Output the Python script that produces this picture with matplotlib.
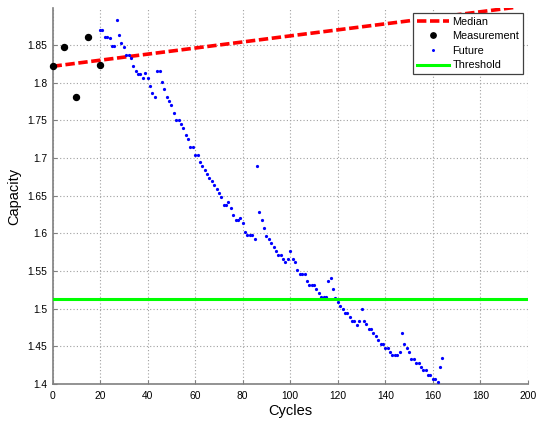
import matplotlib
matplotlib.use("Agg")
import matplotlib.pyplot as plt
import numpy as np

# ================================================================
# 1. Data
# ================================================================
meas_cycles = [0, 5, 10, 15, 20]
meas_capacity = [1.8216, 1.8473, 1.781, 1.861, 1.824]

median_cycles = [0, 100, 195]
median_capacity = [1.8216, 1.862, 1.900]

future_cycles = list(range(20, 165))
future_capacity = [
    1.870, 1.870, 1.860, 1.860, 1.859, 1.848, 1.849, 1.883, 1.863, 1.852,  # 20-29
    1.847, 1.837, 1.837, 1.832, 1.822, 1.816, 1.811, 1.811, 1.806, 1.813,  # 30-39
    1.806, 1.796, 1.786, 1.781, 1.816, 1.816, 1.801, 1.791, 1.781, 1.775,  # 40-49
    1.770, 1.760, 1.750, 1.750, 1.745, 1.740, 1.730, 1.725, 1.715, 1.715,  # 50-59
    1.704, 1.704, 1.694, 1.689, 1.684, 1.679, 1.674, 1.669, 1.664, 1.659,  # 60-69
    1.654, 1.648, 1.638, 1.638, 1.642, 1.633, 1.624, 1.618, 1.618, 1.620,  # 70-79
    1.613, 1.602, 1.598, 1.598, 1.598, 1.592, 1.689, 1.628, 1.617, 1.607,  # 80-89
    1.597, 1.592, 1.587, 1.582, 1.577, 1.571, 1.571, 1.566, 1.562, 1.566,  # 90-99
    1.576, 1.566, 1.562, 1.551, 1.546, 1.546, 1.546, 1.536, 1.531, 1.531,  # 100-109
    1.531, 1.526, 1.521, 1.516, 1.516, 1.516, 1.536, 1.541, 1.526, 1.514,  # 110-119
    1.509, 1.504, 1.499, 1.494, 1.494, 1.489, 1.484, 1.484, 1.478, 1.484,  # 120-129
    1.500, 1.484, 1.479, 1.473, 1.473, 1.468, 1.464, 1.458, 1.453, 1.453,  # 130-139
    1.448, 1.448, 1.443, 1.438, 1.438, 1.438, 1.443, 1.468, 1.453, 1.448,  # 140-149
    1.443, 1.433, 1.433, 1.428, 1.428, 1.423, 1.418, 1.418, 1.412, 1.412,  # 150-159
    1.407, 1.407, 1.402, 1.423, 1.434,                                     # 160-164
]

threshold = 1.513

x_ticks = list(range(0, 201, 20))
y_ticks = [1.4, 1.45, 1.5, 1.55, 1.6, 1.65, 1.7, 1.75, 1.8, 1.85]
y_tick_labels = ["1.4", "1.45", "1.5", "1.55", "1.6", "1.65", "1.7", "1.75", "1.8", "1.85"]

# ================================================================
# 2. Figure
# ================================================================
plt.rcParams["font.family"] = ["Liberation Sans", "DejaVu Sans"]

fig = plt.figure(figsize=(5.36, 4.21), dpi=100)
ax = fig.add_axes([0.098, 0.088, 0.887, 0.893])

ax.plot(median_cycles, median_capacity, "--", color="#ff0000", lw=2.6,
        dashes=(2.6, 1.0), label="Median", zorder=3)
ax.plot(meas_cycles, meas_capacity, "o", color="black", ms=4.3,
        label="Measurement", zorder=4, clip_on=False)
ax.plot(future_cycles, future_capacity, ".", color="#0000ff", ms=2.6,
        label="Future", zorder=3, clip_on=False)
ax.axhline(threshold, color="#00ff00", lw=2.2, label="Threshold", zorder=5)

ax.set_xlim(0, 200)
ax.set_ylim(1.4, 1.899)
ax.set_xticks(x_ticks)
ax.set_yticks(y_ticks)
ax.set_yticklabels(y_tick_labels)

ax.grid(True, color="#a0a0a0", linestyle=(0, (1, 2)), lw=0.8)
ax.set_axisbelow(True)

for side in ("top", "right"):
    ax.spines[side].set_visible(False)
for side in ("left", "bottom"):
    ax.spines[side].set_color("#808080")
    ax.spines[side].set_linewidth(1.2)

ax.tick_params(direction="in", length=3, color="#808080", labelsize=7.4,
               labelcolor="black")
ax.tick_params(axis="x", pad=5)
ax.tick_params(axis="y", pad=4)

ax.set_xlabel("Cycles", fontsize=10.5, labelpad=2)
ax.set_ylabel("Capacity", fontsize=10.5, labelpad=4)

leg = ax.legend(loc="upper right", bbox_to_anchor=(0.99, 0.987),
                borderaxespad=0, fontsize=7.8, handlelength=3.0,
                handletextpad=0.3, labelspacing=0.42, borderpad=0.35,
                fancybox=False, framealpha=1, edgecolor="#404040",
                markerscale=0.9)
leg.get_frame().set_linewidth(0.9)

fig.savefig("out.png", dpi=100)
